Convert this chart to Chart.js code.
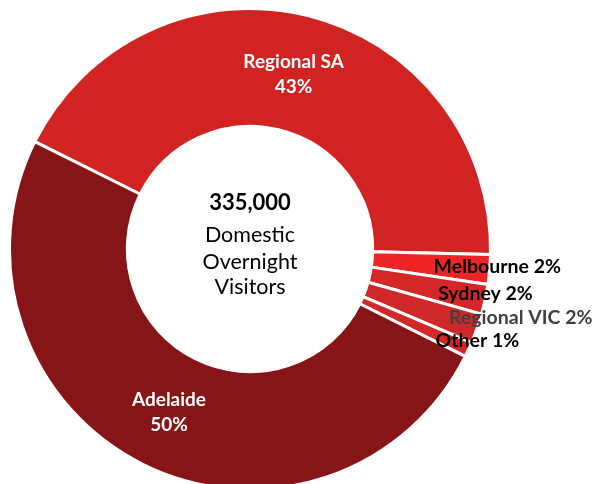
<!DOCTYPE html>
<html lang="en">
<head>
    <meta charset="UTF-8">
    <title>Domestic Overnight Visitors</title>
    <script src="https://cdn.jsdelivr.net/npm/chart.js"></script>
    <style>
        html, body { margin: 0; padding: 0; background: #fff; overflow: hidden; }
    </style>
</head>
<body>
    <canvas id="myChart" width="592" height="491"></canvas>

    <script>
        // datos del gráfico
        const regions = ['Regional SA', 'Melbourne', 'Sydney', 'Regional VIC', 'Other', 'Adelaide'];
        const shares = [43, 2, 2, 2, 1, 50];
        const sliceColors = ['#d22323', '#ef2424', '#d42727', '#d02828', '#d32828', '#871416'];
        const totalVisitors = '335,000';
        const centerLines = ['Domestic', 'Overnight', 'Visitors'];

        // etiquetas dentro / fuera del anillo
        const insideLabels = [0, 5];
        const outsideOffsets = { 1: [-56, -3], 2: [-47, -6], 3: [-28, -11], 4: [-33, -9] };
        const outsideColors = { 1: '#000000', 2: '#000000', 3: '#404040', 4: '#000000' };

        const labelPlugin = {
            id: 'labelPlugin',
            afterDatasetsDraw(chart) {
                const ctx = chart.ctx;
                const arcs = chart.getDatasetMeta(0).data;
                ctx.save();

                // texto del centro
                const cx = arcs[0].x, cy = arcs[0].y;
                ctx.textAlign = 'center';
                ctx.textBaseline = 'alphabetic';
                ctx.fillStyle = '#000';
                ctx.font = 'bold 22px Lato';
                ctx.fillText(totalVisitors, cx, cy - 39);
                ctx.font = '21.5px Lato';
                ctx.fillText(centerLines[0], cx, cy - 7);
                ctx.fillText(centerLines[1], cx, cy + 20);
                ctx.fillText(centerLines[2], cx, cy + 45);

                arcs.forEach((arc, i) => {
                    const pct = shares[i] + '%';
                    if (insideLabels.includes(i)) {
                        const p = arc.tooltipPosition();
                        ctx.fillStyle = '#ffffff';
                        ctx.font = 'bold 19px Lato';
                        ctx.textAlign = 'center';
                        ctx.fillText(regions[i], p.x, p.y - 5);
                        ctx.fillText(pct, p.x, p.y + 20);
                    } else {
                        const mid = (arc.startAngle + arc.endAngle) / 2;
                        const ox = arc.x + arc.outerRadius * Math.cos(mid);
                        const oy = arc.y + arc.outerRadius * Math.sin(mid);
                        const off = outsideOffsets[i];
                        ctx.fillStyle = outsideColors[i];
                        ctx.font = 'bold 19.5px Lato';
                        ctx.textAlign = 'left';
                        ctx.textBaseline = 'middle';
                        ctx.fillText(regions[i] + ' ' + pct, ox + off[0], oy + off[1]);
                        ctx.textBaseline = 'alphabetic';
                    }
                });
                ctx.restore();
            }
        };

        const ctx = document.getElementById('myChart').getContext('2d');
        const chart = new Chart(ctx, {
            type: 'doughnut',
            data: {
                labels: regions,
                datasets: [{
                    data: shares,
                    backgroundColor: sliceColors,
                    borderColor: '#ffffff',
                    borderWidth: 3
                }]
            },
            options: {
                responsive: false,
                animation: false,
                rotation: -63.5,
                cutout: '51%',
                layout: { padding: { left: 8, right: 100, top: 7, bottom: 0 } },
                plugins: {
                    legend: { display: false },
                    tooltip: { enabled: false }
                }
            },
            plugins: [labelPlugin]
        });
    </script>
</body>
</html>
